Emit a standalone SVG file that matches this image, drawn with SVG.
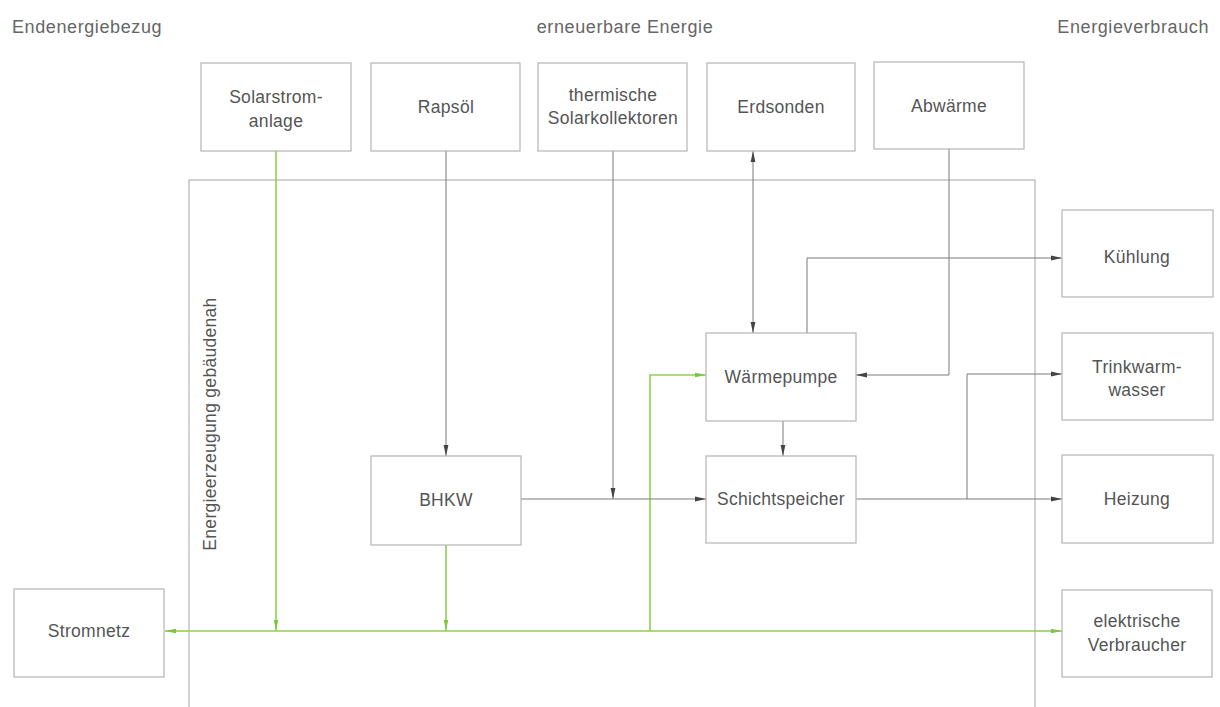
<svg xmlns="http://www.w3.org/2000/svg" width="1220" height="707" viewBox="0 0 1220 707">
<style>
.bg{fill:#ffffff}
.box{fill:#ffffff;stroke:#b4b4b4;stroke-width:1.2}
.frame{fill:none;stroke:#b4b4b4;stroke-width:1.2}
.lbl{font-family:"Liberation Sans",Arial,sans-serif;font-size:17.5px;letter-spacing:0.3px;fill:#555;text-anchor:middle}
.hdr{font-family:"Liberation Sans",Arial,sans-serif;font-size:18px;letter-spacing:0.6px;fill:#666}
.ln{fill:none;stroke:#7a7a7a;stroke-width:1}
.gr{fill:none;stroke:#8fd14f;stroke-width:1.6}
</style>
<defs>
<marker id="ag" markerUnits="userSpaceOnUse" markerWidth="12" markerHeight="8" refX="11" refY="4" orient="auto-start-reverse">
<path d="M0,1.6 L11,4 L0,6.4 z" fill="#444"/>
</marker>
<marker id="agr" markerUnits="userSpaceOnUse" markerWidth="12" markerHeight="8" refX="11" refY="4" orient="auto-start-reverse">
<path d="M0,1.8 L11,4 L0,6.2 z" fill="#7cc63c"/>
</marker>
</defs>
<rect class="bg" x="0" y="0" width="1220" height="707"/>

<g id="headers">
<text class="hdr" x="12" y="33">Endenergiebezug</text>
<text class="hdr" x="625" y="33" text-anchor="middle">erneuerbare Energie</text>
<text class="hdr" x="1209" y="33" text-anchor="end">Energieverbrauch</text>
</g>

<g id="container">
<rect class="frame" x="189" y="180" width="846" height="560"/>
<text class="lbl" transform="translate(216,424) rotate(-90)" font-size="16">Energieerzeugung gebäudenah</text>
</g>

<g id="connectors">
<path class="gr" d="M1035,631 L189,631"/>
<path class="gr" d="M189,631 L165,631" marker-end="url(#agr)"/>
<path class="gr" d="M1035,631 L1062,631" marker-end="url(#agr)"/>
<path class="gr" d="M276,151 L276,631" marker-end="url(#agr)"/>
<path class="gr" d="M446,545 L446,631" marker-end="url(#agr)"/>
<path class="gr" d="M650,631 L650,375 L706,375" marker-end="url(#agr)"/>
<path class="ln" d="M446,151 L446,456" marker-end="url(#ag)"/>
<path class="ln" d="M613,151 L613,499" marker-end="url(#ag)"/>
<path class="ln" d="M521,499 L706,499" marker-end="url(#ag)"/>
<path class="ln" d="M753,151 L753,333" marker-start="url(#ag)" marker-end="url(#ag)"/>
<path class="ln" d="M807,333 L807,258 L1062,258" marker-end="url(#ag)"/>
<path class="ln" d="M949,149 L949,375 L856,375" marker-end="url(#ag)"/>
<path class="ln" d="M783,421 L783,456" marker-end="url(#ag)"/>
<path class="ln" d="M856,499 L1062,499" marker-end="url(#ag)"/>
<path class="ln" d="M967,499 L967,374 L1062,374" marker-end="url(#ag)"/>
</g>

<g id="solarstrom">
<rect class="box" x="201" y="63" width="150" height="88"/>
<text class="lbl" x="276" y="103">Solarstrom-</text>
<text class="lbl" x="276" y="127">anlage</text>
</g>
<g id="rapsoel">
<rect class="box" x="371" y="63" width="149" height="88"/>
<text class="lbl" x="446" y="113">Rapsöl</text>
</g>
<g id="solarkollektoren">
<rect class="box" x="538" y="63" width="149" height="88"/>
<text class="lbl" x="613" y="101">thermische</text>
<text class="lbl" x="613" y="124">Solarkollektoren</text>
</g>
<g id="erdsonden">
<rect class="box" x="707" y="63" width="148" height="88"/>
<text class="lbl" x="781" y="113">Erdsonden</text>
</g>
<g id="abwaerme">
<rect class="box" x="874" y="62" width="150" height="87"/>
<text class="lbl" x="949" y="112">Abwärme</text>
</g>

<g id="kuehlung">
<rect class="box" x="1062" y="210" width="151" height="87"/>
<text class="lbl" x="1137" y="263">Kühlung</text>
</g>
<g id="trinkwarmwasser">
<rect class="box" x="1062" y="333" width="151" height="87"/>
<text class="lbl" x="1137" y="373">Trinkwarm-</text>
<text class="lbl" x="1137" y="396">wasser</text>
</g>
<g id="heizung">
<rect class="box" x="1062" y="455" width="151" height="88"/>
<text class="lbl" x="1137" y="505">Heizung</text>
</g>
<g id="verbraucher">
<rect class="box" x="1062" y="590" width="150" height="87"/>
<text class="lbl" x="1137" y="627">elektrische</text>
<text class="lbl" x="1137" y="651">Verbraucher</text>
</g>

<g id="waermepumpe">
<rect class="box" x="706" y="333" width="150" height="88"/>
<text class="lbl" x="781" y="383">Wärmepumpe</text>
</g>
<g id="schichtspeicher">
<rect class="box" x="706" y="456" width="150" height="87"/>
<text class="lbl" x="781" y="505">Schichtspeicher</text>
</g>
<g id="bhkw">
<rect class="box" x="371" y="456" width="150" height="89"/>
<text class="lbl" x="446" y="506">BHKW</text>
</g>

<g id="stromnetz">
<rect class="box" x="14" y="589" width="150" height="88"/>
<text class="lbl" x="89" y="637">Stromnetz</text>
</g>
</svg>
